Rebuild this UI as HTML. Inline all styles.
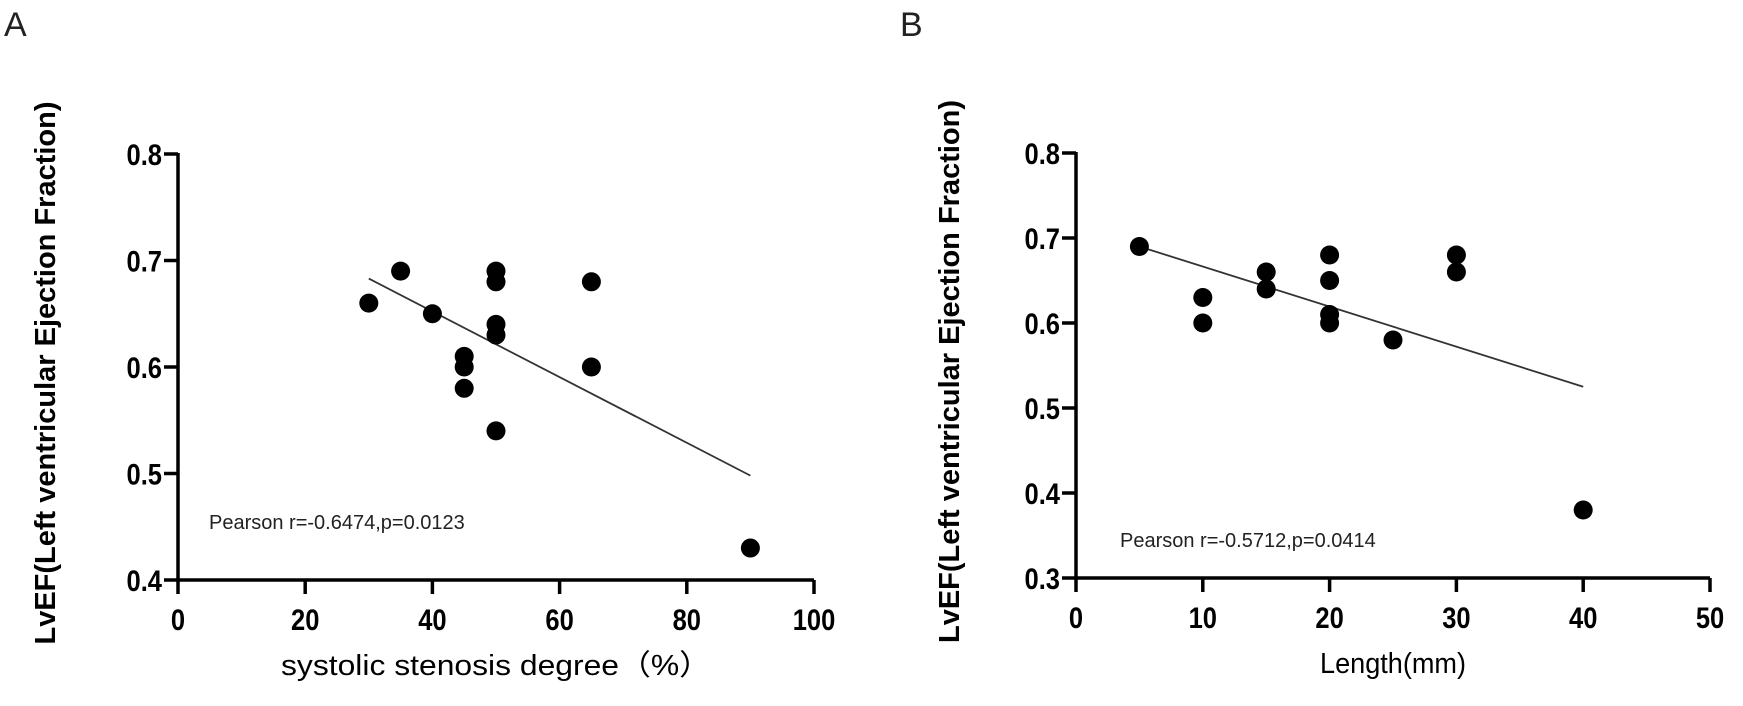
<!DOCTYPE html>
<html><head><meta charset="utf-8"><style>
html,body{margin:0;padding:0;background:#fff;}
svg{display:block;font-family:"Liberation Sans",sans-serif;}
</style></head><body>
<svg id="chart" width="1743" height="706" viewBox="0 0 1743 706"></svg>
<script>
const aX=[30,35,40,45,45,45,50,50,50,50,50,65,65,90];
const aY=[0.66,0.69,0.65,0.61,0.60,0.58,0.69,0.68,0.64,0.63,0.54,0.68,0.60,0.43];
const aFit=[[30,0.683],[90,0.498]];
const aXTicks=[0,20,40,60,80,100];
const aYTicks=[0.4,0.5,0.6,0.7,0.8];
const bX=[5,10,10,15,15,20,20,20,20,25,30,30,40];
const bY=[0.69,0.63,0.60,0.66,0.64,0.68,0.65,0.61,0.60,0.58,0.68,0.66,0.38];
const bFit=[[5,0.69],[40,0.525]];
const bXTicks=[0,10,20,30,40,50];
const bYTicks=[0.3,0.4,0.5,0.6,0.7,0.8];
const NS="http://www.w3.org/2000/svg";
const svg=document.getElementById('chart');
function mk(t,a,p){const e=document.createElementNS(NS,t);for(const k in a)e.setAttribute(k,a[k]);(p||svg).appendChild(e);return e;}
function panel(o){
  const g=mk('g',{});
  
  
  const sx=v=>o.x0+(v-o.xmin)/(o.xmax-o.xmin)*(o.x1-o.x0);
  const sy=v=>o.y0-(v-o.ymin)/(o.ymax-o.ymin)*(o.y0-o.y1);
  const ax=mk('line',{x1:o.x0-2,y1:o.y0,x2:o.x1,y2:o.y0,stroke:'#000','stroke-width':3.5},g);
  
  
  const ay=mk('line',{x1:o.x0,y1:o.y0+2,x2:o.x0,y2:o.y1-1,stroke:'#000','stroke-width':3.5},g);
  
  
  o.xt.forEach(v=>{const x=sx(v);
    mk('line',{x1:x,y1:o.y0,x2:x,y2:o.y0+14,stroke:'#000','stroke-width':3.5},g);
    const t=mk('text',{x:x,y:o.y0+50,'text-anchor':'middle','font-size':30,'font-weight':'bold',transform:`translate(${x},0) scale(0.85,1) translate(${-x},0)`},g);
    t.textContent=v;
    
    });
  o.yt.forEach(v=>{const y=sy(v);
    mk('line',{x1:o.x0-14,y1:y,x2:o.x0,y2:y,stroke:'#000','stroke-width':3.5},g);
    const t=mk('text',{x:o.x0-16,y:y+11,'text-anchor':'end','font-size':30,'font-weight':'bold',transform:`translate(${o.x0-16},0) scale(0.85,1) translate(${-(o.x0-16)},0)`},g);
    t.textContent=v.toFixed(1);
    
    });
  const fl=mk('line',{x1:sx(o.fit[0][0]),y1:sy(o.fit[0][1]),x2:sx(o.fit[1][0]),y2:sy(o.fit[1][1]),stroke:'#333','stroke-width':1.8},g);
  
  
  o.xs.forEach((v,i)=>{const c=mk('circle',{cx:sx(v),cy:sy(o.ys[i]),r:9.5,fill:'#000'},g);
    
    });
  const yl=mk('text',{x:0,y:0,'text-anchor':'middle','font-size':29,'font-weight':'bold',transform:`translate(${o.ylx},${(o.y0+o.y1)/2+6}) rotate(-90)`},g);
  yl.textContent='LvEF(Left ventricular Ejection Fraction)';
  
  
  const xl=mk('text',{x:o.xlx,y:o.y0+95,'font-size':29,textLength:o.xlw,lengthAdjust:'spacingAndGlyphs'},g);
  xl.textContent=o.xlabel;
  
  
  const pt=mk('text',{x:o.px,y:o.py,'font-size':20,fill:'#222'},g);
  pt.textContent=o.pear;
  
  
  const pl=mk('text',{x:o.lx,y:36,'font-size':34,fill:'#222'},g);
  pl.textContent=o.letter;
  
  
}
panel({name:'panel-a',x0:178,x1:814,xmin:0,xmax:100,y0:580,y1:154,ymin:0.4,ymax:0.8,xs:aX,ys:aY,fit:aFit,xt:aXTicks,yt:aYTicks,ylx:55,xlabel:'systolic stenosis degree（%）',xlx:281,xlw:430,pear:'Pearson r=-0.6474,p=0.0123',px:209,py:529,letter:'A',lx:4});
panel({name:'panel-b',x0:1076,x1:1710,xmin:0,xmax:50,y0:578,y1:153,ymin:0.3,ymax:0.8,xs:bX,ys:bY,fit:bFit,xt:bXTicks,yt:bYTicks,ylx:959,xlabel:'Length(mm)',xlx:1320,xlw:146,pear:'Pearson r=-0.5712,p=0.0414',px:1120,py:547,letter:'B',lx:900});
</script>
</body></html>
